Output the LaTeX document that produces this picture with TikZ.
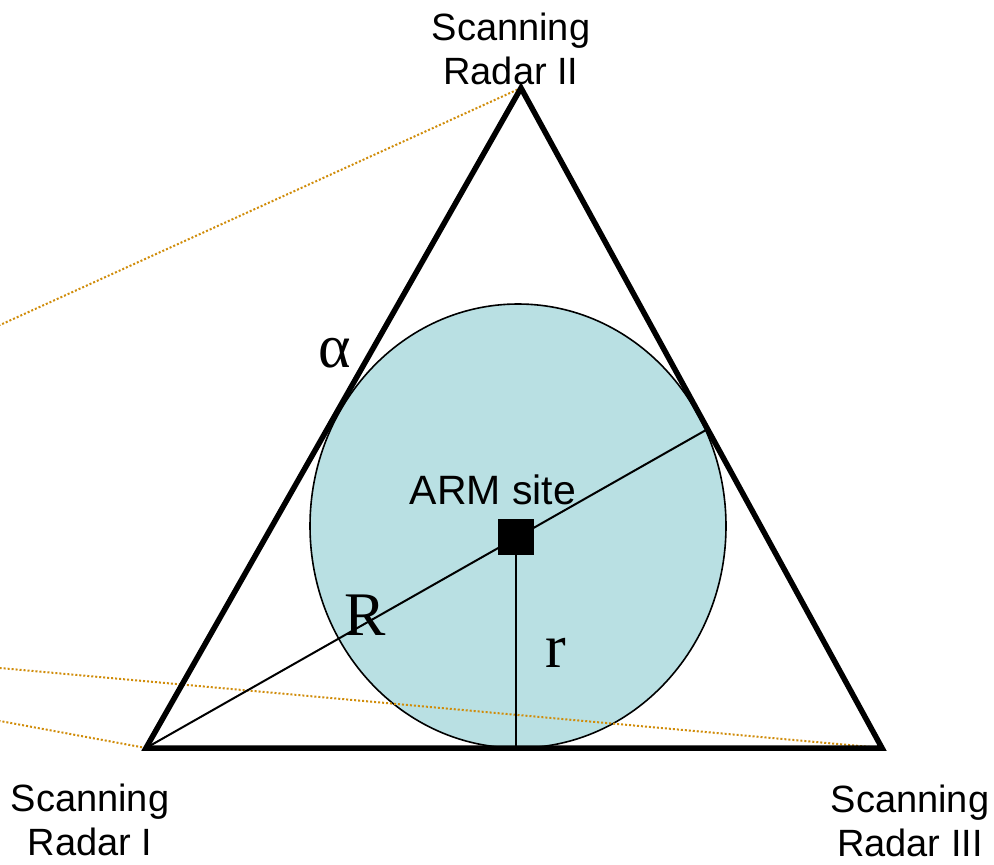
\documentclass[tikz,border=0pt]{standalone}
\usepackage{fontspec}
\setmainfont{Liberation Sans}
\newfontfamily\serifletters{Liberation Serif}
\definecolor{sitecyan}{RGB}{185,224,227}
\definecolor{rayorange}{RGB}{208,140,10}
\tikzset{
  radarlabel/.style={align=center, inner sep=0pt, font=\fontsize{38}{44}\selectfont},
  symlabel/.style={anchor=base, inner sep=0pt, font=\serifletters\fontsize{62}{70}\selectfont},
  ray/.style={rayorange, line width=2pt, dash pattern=on 2pt off 2pt},
  side/.style={line width=5.5pt, line join=miter}
}
\begin{document}
\begin{tikzpicture}[x=1pt, y=-1pt]
  \useasboundingbox (0,0) rectangle (994,865);
  \coordinate (RI)   at (146,748);
  \coordinate (RII)  at (521,88);
  \coordinate (RIII) at (882,748);
  \coordinate (T)    at (706,430);
  \coordinate (farA) at (0,325);
  \coordinate (farB) at (0,668);
  \coordinate (farC) at (0,721);
  \draw[fill=sitecyan, line width=1.6pt] (518,526) ellipse [x radius=208, y radius=222];
  \draw[ray] (RII)  -- (farA);
  \draw[ray] (RIII) -- (farB);
  \draw[ray] (RI)   -- (farC);
  \draw[side] (RI) -- (RII) -- (RIII) -- cycle;
  \draw[line width=2pt] (RI) -- (T);
  \node[fill=black, minimum size=36pt, inner sep=0pt] (arm) at (516,536.5) {};
  \draw[line width=2pt] (arm.south) -- (arm |- RI);
  \node[anchor=base, inner sep=0pt, font=\fontsize{41}{45}\selectfont] (armlabel) at (493,504) {ARM site};
  \node[symlabel] (alpha) at (335,367) {α};
  \node[symlabel] (bigR)  at (365,635) {R};
  \node[symlabel] (smallr) at (556,667) {r};
  \node[radarlabel] (labII)  at (511,49)  {Scanning\\Radar II};
  \node[radarlabel] (labI)   at (90,820)  {Scanning\\Radar I};
  \node[radarlabel] (labIII) at (910,821) {Scanning\\Radar III};
\end{tikzpicture}
\end{document}
